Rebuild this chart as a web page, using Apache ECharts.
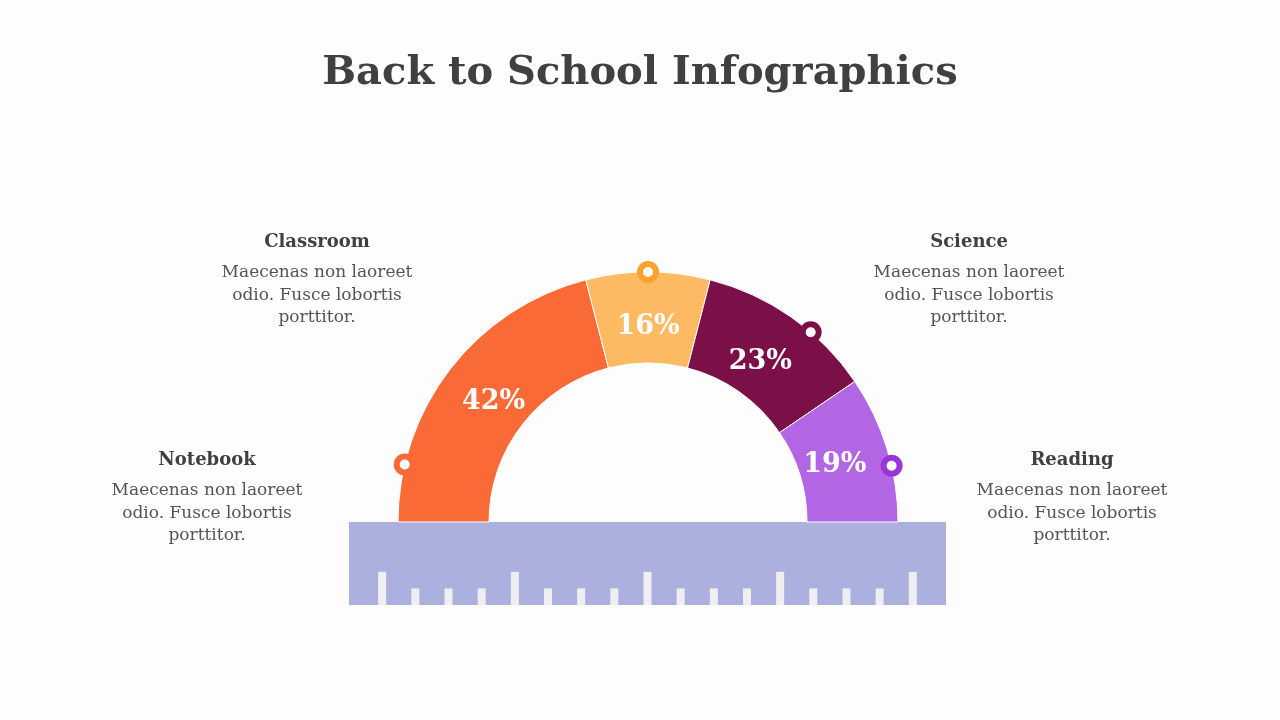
<!DOCTYPE html>
<html><head><meta charset="utf-8">
<script src="https://cdn.jsdelivr.net/npm/echarts@6/dist/echarts.min.js"></script>
<style>html,body{margin:0;padding:0;background:#fdfdfd}#c{width:1280px;height:720px}</style>
</head><body><div id="c"></div>
<script>
const categories = ['Notebook', 'Classroom', 'Science', 'Reading'];
const shares = [42, 16, 23, 19];
const sliceColors = ['#f96a37', '#fdba63', '#7b1049', '#b366e3'];
const markerAngles = [166.7, 90, 49.4, 13];
const markerColors = ['#f96a37', '#f9a230', '#7b1049', '#9a36d8'];
const rulerTickPos = [1,2,3,4,5,6,7,8,9,10,11,12,13,14,15,16,17];
const rulerTickLen = [2,1,1,1,2,1,1,1,2,1,1,1,2,1,1,1,2];
const bodyText = ['Maecenas non laoreet', 'odio. Fusce lobortis', 'porttitor.'];
const blocks = [
  {name: 'Classroom', x: 317, y: 241},
  {name: 'Notebook', x: 207, y: 459},
  {name: 'Science', x: 969, y: 241},
  {name: 'Reading', x: 1072, y: 459}
];
const serif = 'DejaVu Serif';
const graphics = [];
blocks.forEach(b => {
  graphics.push({type: 'text', x: b.x, y: b.y + 1, style: {text: b.name, align: 'center', verticalAlign: 'middle', font: 'bold 18px "' + serif + '"', fill: '#404040'}});
  bodyText.forEach((t, i) => {
    graphics.push({type: 'text', x: b.x, y: b.y + 32 + i * 22.5, style: {text: t, align: 'center', verticalAlign: 'middle', font: '17px "' + serif + '"', fill: '#555555'}});
  });
});
const chart = echarts.init(document.getElementById('c'));
chart.setOption({
  backgroundColor: '#fdfdfd',
  animation: false,
  title: {text: 'Back to School Infographics', left: 'center', top: 49, textStyle: {fontFamily: serif, fontWeight: 'bold', fontSize: 40, color: '#404040'}},
  grid: {left: 349, top: 522, width: 597, height: 83, show: true, backgroundColor: '#acb0de', borderWidth: 0},
  xAxis: {type: 'value', min: 0, max: 18, show: false},
  yAxis: {type: 'value', min: 0, max: 5, show: false},
  polar: {center: [648, 522], radius: 250},
  angleAxis: {type: 'value', min: 0, max: 360, startAngle: 0, clockwise: false, show: false},
  radiusAxis: {type: 'value', min: 0, max: 1, show: false},
  graphic: graphics,
  series: [
    {type: 'pie', center: [648, 522], radius: [159, 250], startAngle: 180, endAngle: 0, z: 1, silent: true,
     itemStyle: {borderColor: '#ffffff', borderWidth: 1},
     label: {show: false}, labelLine: {show: false},
     data: categories.map((c, i) => ({name: c, value: shares[i], itemStyle: {color: sliceColors[i]}}))},
    {type: 'pie', center: [648, 522], radius: [159, 226], startAngle: 180, endAngle: 0, z: 2, silent: true,
     itemStyle: {color: 'rgba(0,0,0,0)', borderWidth: 0},
     label: {show: true, position: 'inside', formatter: '{c}%', color: '#ffffff', fontFamily: serif, fontWeight: 'bold', fontSize: 27},
     labelLine: {show: false},
     data: categories.map((c, i) => ({name: c, value: shares[i]}))},
    {type: 'scatter', coordinateSystem: 'polar', z: 5, symbol: 'circle', symbolSize: 16, silent: true,
     data: markerAngles.map((a, i) => ({value: [1, a], itemStyle: {color: '#ffffff', borderColor: markerColors[i], borderWidth: 6, opacity: 1}}))},
    {type: 'bar', barWidth: 8, z: 3, silent: true, itemStyle: {color: '#efeff2'},
     data: rulerTickPos.map((p, i) => [p, rulerTickLen[i]])}
  ]
});
</script></body></html>
